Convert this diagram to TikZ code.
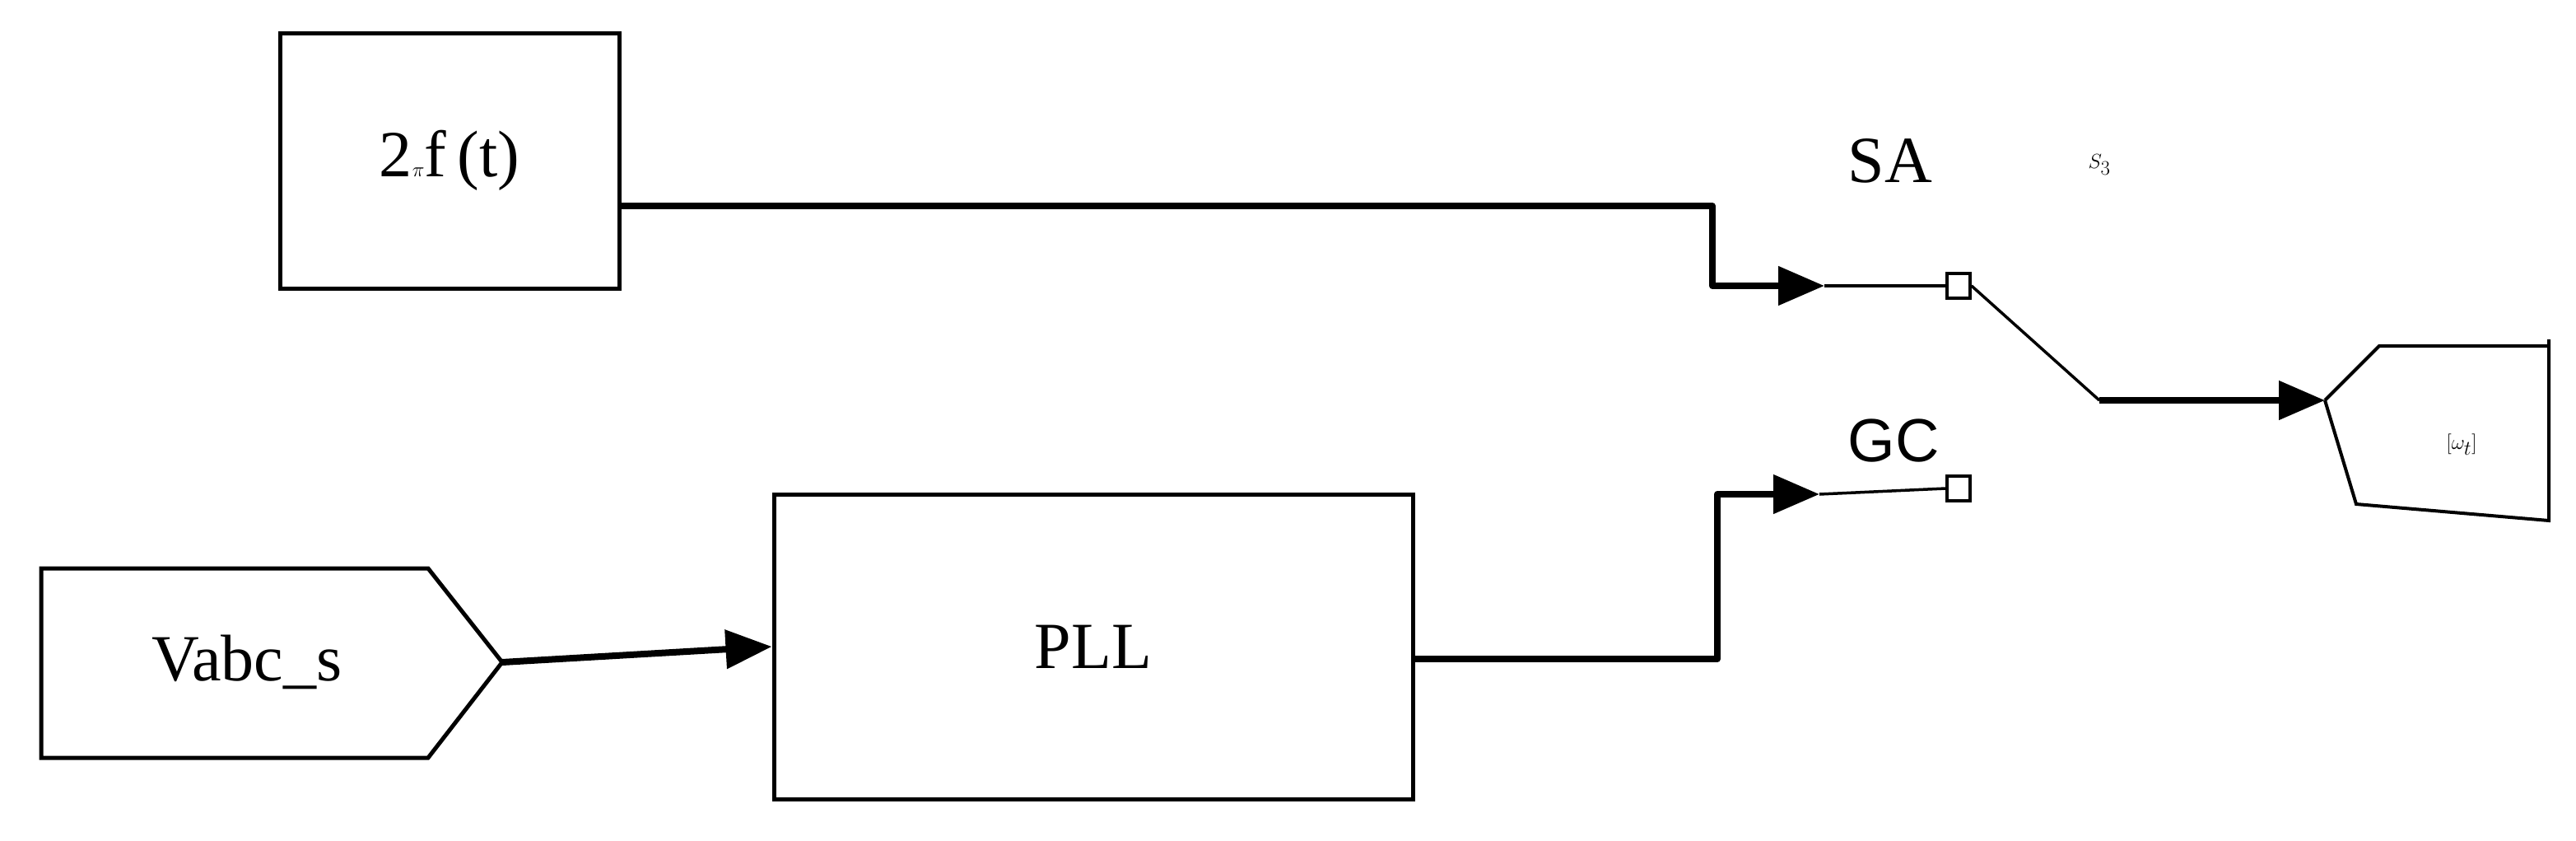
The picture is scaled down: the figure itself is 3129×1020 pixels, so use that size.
\documentclass[tikz,border=0pt]{standalone}
\usepackage{fontspec}
\setmainfont{Liberation Serif}
\newfontfamily\gcfont{Liberation Sans}
\usetikzlibrary{arrows.meta}
\begin{document}
\begin{tikzpicture}[x=1pt,y=-1pt,
  blk/.style={draw,line width=5pt},
  sig/.style={line width=8pt,-{Triangle[length=56pt,width=46pt]}},
  thin/.style={line width=3.5pt},
  port/.style={draw,line width=3.5pt,fill=white,minimum width=28pt,minimum height=30pt,inner sep=0pt},
  lbl/.style={font=\fontsize{80}{90}\selectfont}]
\useasboundingbox (0,0) rectangle (3129,1020);
% blocks
\node[blk,minimum width=412pt,minimum height=310pt,lbl] (src) at (546,195) {2$\pi$f\,(t)};
\node[blk,minimum width=776pt,minimum height=370pt,lbl] (pll) at (1328,785) {PLL};
\draw[line width=5pt] (50,690) -- (520,690) -- (610,804) -- (520,920) -- (50,920) -- cycle;
\node[lbl] (vabc) at (300,804) {Vabc\_s};
\coordinate (vout) at (610,804);
% switch ports
\node[port] (pa) at (2379,347) {};
\node[port] (pb) at (2379,593) {};
\coordinate (ta) at (2216,347);
\coordinate (tb) at (2210,600);
\coordinate (sw) at (2550,486);
\coordinate (gin) at (2824,486);
\node[font=\fontsize{80}{90}\selectfont] (sa) at (2296,195) {SA};
\node[font=\fontsize{80}{90}\selectfont] (s3) at (2550,200) {$S_3$};
\node[font=\gcfont\fontsize{74}{80}\selectfont] (gc) at (2300,535) {GC};
% goto
\draw[line width=4pt] (gin) -- (2890,420) -- (3096,420);
\draw[line width=4pt] (3096,412) -- (3096,632) -- (2862,612) -- (gin);
\node[lbl] (wt) at (2990,540) {$[\omega_t]$};
% connectors
\draw[sig,line join=round] (src.east |- 0,250) -- (2080,250) -- (2080,347) -- (ta);
\draw[thin] (ta) -- (pa.west);
\draw[thin] (pa.east) -- (sw);
\draw[sig] (sw) -- (gin);
\draw[sig] (vout) -- (pll.west);
\draw[sig,line join=round] (pll.east |- 0,800) -- (2086,800) -- (2086,600) -- (tb);
\draw[thin] (tb) -- (pb.west);
\end{tikzpicture}
\end{document}
